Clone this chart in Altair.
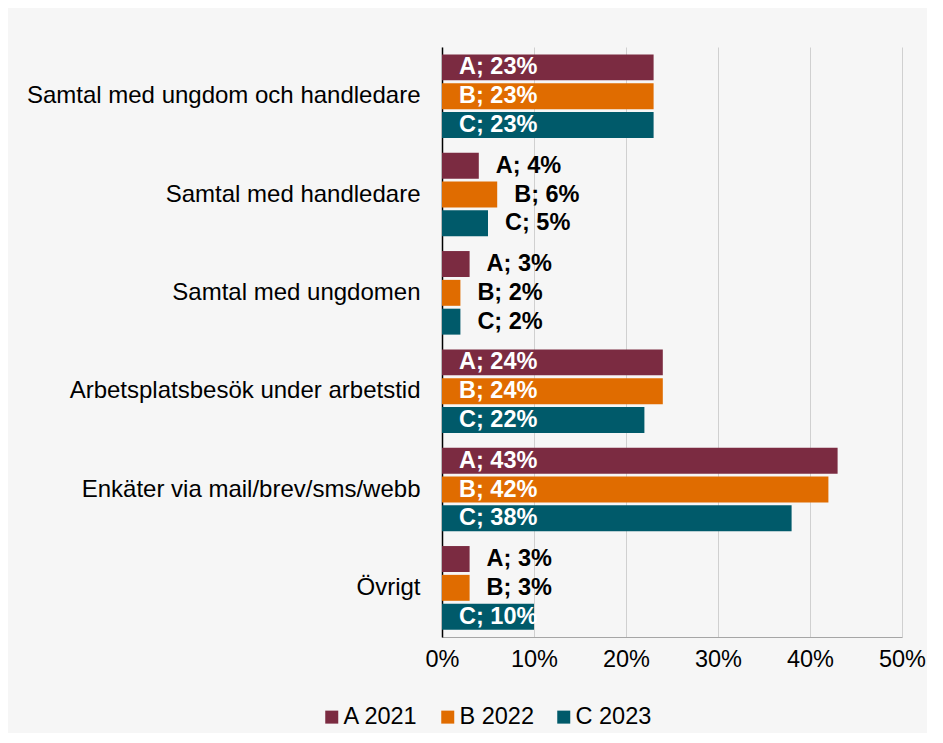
import altair as alt
import pandas as pd

categories = [
    "Samtal med ungdom och handledare",
    "Samtal med handledare",
    "Samtal med ungdomen",
    "Arbetsplatsbesök under arbetstid",
    "Enkäter via mail/brev/sms/webb",
    "Övrigt",
]
series = ["A 2021", "B 2022", "C 2023"]
a_2021 = [23, 4, 3, 24, 43, 3]
b_2022 = [23, 6, 2, 24, 42, 3]
c_2023 = [23, 5, 2, 22, 38, 10]
colors = ["#7b2b41", "#e06c00", "#005a6a"]
x_ticks = [0, 10, 20, 30, 40, 50]

rows = []
for s, vals in zip(series, [a_2021, b_2022, c_2023]):
    for c, v in zip(categories, vals):
        inside = v >= 8
        rows.append(dict(cat=c, series=s, value=v, label=f"{s[0]}; {v}%",
                         inside=inside, lx=0 if inside else v))
df = pd.DataFrame(rows)

FONT = "Liberation Sans"

base = alt.Chart(df).encode(
    y=alt.Y("cat:N", sort=categories,
            scale=alt.Scale(paddingInner=0.15, paddingOuter=0.075),
            axis=alt.Axis(title=None, labelFontSize=24, labelColor="#000000",
                          labelPadding=22, ticks=False, domainColor="#000000",
                          domainWidth=1.5, grid=False, labelLimit=600, labelFont=FONT)),
    yOffset=alt.YOffset("series:N", sort=series,
                        scale=alt.Scale(paddingInner=0.1, paddingOuter=0)),
)

bars = base.mark_bar().encode(
    x=alt.X("value:Q", scale=alt.Scale(domain=[0, 50]),
            axis=alt.Axis(title=None, values=x_ticks, labelExpr="datum.value + '%'",
                          grid=True, gridColor="#d0d0d0", ticks=False, labelFlush=False,
                          labelAlign="center",
                          domainColor="#a6a6a6", labelFontSize=23.5, labelPadding=10,
                          labelColor="#000000", labelFont=FONT)),
    color=alt.Color("series:N", scale=alt.Scale(domain=series, range=colors),
                    legend=alt.Legend(title=None, orient="none", legendX=-122, legendY=658,
                                      direction="horizontal", symbolType="square",
                                      symbolSize=169, symbolStrokeWidth=0,
                                      labelFontSize=23.5, labelFont=FONT, labelColor="#000000",
                                      columnPadding=18, labelOffset=0)),
)

text = base.mark_text(align="left", baseline="middle", dx=17, fontWeight="bold",
                      fontSize=23.5, font=FONT).encode(
    x=alt.X("lx:Q"),
    text="label:N",
    color=alt.condition("datum.inside", alt.value("white"), alt.value("black")),
)

chart = (bars + text).properties(
    width=460, height=590,
    autosize=alt.AutoSizeParams(type="none"),
    padding={"left": 434, "top": 39, "right": 25, "bottom": 96},
    background="#f6f6f6",
).configure_view(stroke=None)

chart.save("out.html", embed_options={"renderer": "svg", "actions": False})
